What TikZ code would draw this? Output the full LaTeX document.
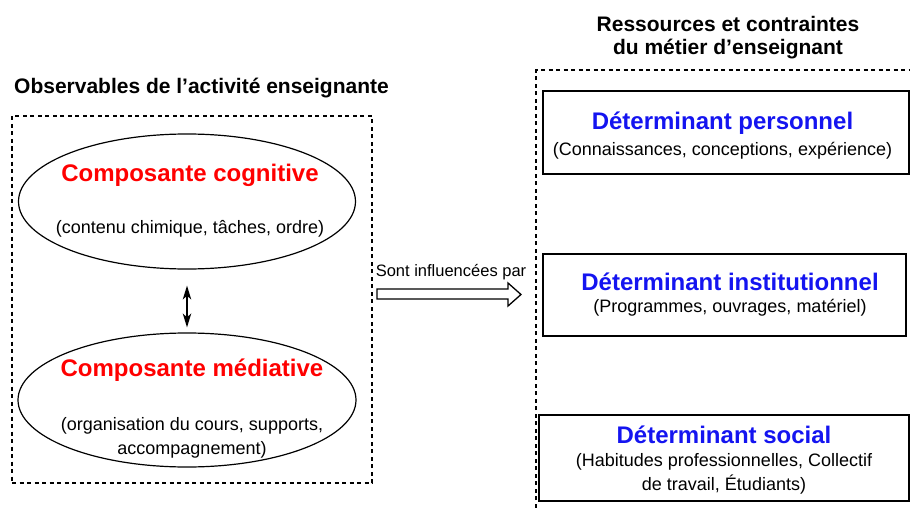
\documentclass[tikz,border=0pt]{standalone}
\usepackage{fontspec}
\setmainfont{Liberation Sans}
\usetikzlibrary{shapes.geometric,arrows.meta}
\definecolor{redt}{RGB}{255,0,0}
\definecolor{bluet}{RGB}{20,20,240}
\tikzset{
  frame/.style={draw, dash pattern=on 4pt off 3.5pt, line width=1.3pt},
  ell/.style={draw, ellipse, line width=1.2pt, inner sep=0pt},
  detbox/.style={draw, rectangle, line width=1.4pt, inner sep=0pt},
  ttl/.style={font=\fontsize{21}{23}\selectfont\bfseries, inner sep=0pt, align=center},
  big/.style={font=\fontsize{24}{27}\selectfont\bfseries, inner sep=0pt, align=center},
  small/.style={font=\fontsize{18}{24}\selectfont, inner sep=0pt, align=center},
  lbl/.style={font=\fontsize{16.5}{19}\selectfont, inner sep=0pt},
  hollow/.style={draw, line width=1.3pt, line join=miter, fill=white},
  dbl/.style={{Stealth[length=14pt,width=8.5pt,inset=4pt]}-{Stealth[length=14pt,width=8.5pt,inset=4pt]}, line width=1.3pt},
}
\begin{document}
\begin{tikzpicture}[x=1pt,y=-1pt]
\useasboundingbox (0,0) rectangle (910,511);
% left frame
\node[frame, minimum width=360pt, minimum height=367pt, inner sep=0pt] (lframe) at (192,299.5) {};
\node[ttl] (ltitle) at (201.5,88) {Observables de l’activité enseignante};
% ellipses
\node[ell, minimum width=337pt, minimum height=135pt] (e1) at (187,201.5) {};
\node[big, text=redt] (e1t) at (190,175) {Composante cognitive};
\node[small] (e1s) at (190,229) {(contenu chimique, tâches, ordre)};
\node[ell, minimum width=338pt, minimum height=134pt] (e2) at (187,400) {};
\node[big, text=redt] (e2t) at (192,370) {Composante médiative};
\node[small] (e2s) at (192,437.5) {(organisation du cours, supports,\\accompagnement)};
\draw[dbl] ([yshift=-16pt]e1.south) -- ([yshift=5pt]e2.north);
% arrow
\node[lbl] (inf) at (451,272) {Sont influencées par};
\coordinate (a0) at (377,289);
\coordinate (a1) at (508,289);
\coordinate (a2) at (508,283);
\coordinate (tip) at (521,294.5);
\coordinate (a4) at (508,306);
\coordinate (a5) at (508,299);
\coordinate (a6) at (377,299);
\draw[hollow] (a0) -- (a1) -- (a2) -- (tip) -- (a4) -- (a5) -- (a6) -- cycle;
% right frame
\node[ttl] (rtitle) at (728,37.5) {Ressources et contraintes\\du métier d’enseignant};
\coordinate (rf1) at (536,515);
\coordinate (rf2) at (536,70);
\coordinate (rf3) at (915,70);
\draw[frame] (rf1) -- (rf2) -- (rf3);
% boxes
\node[detbox, minimum width=366pt, minimum height=83pt] (b1) at (726,132.5) {};
\node[big, text=bluet] (b1t) at (722.5,123) {Déterminant personnel};
\node[small] (b1s) at (722.5,151) {(Connaissances, conceptions, expérience)};
\node[detbox, minimum width=363pt, minimum height=82pt] (b2) at (724.5,295) {};
\node[big, text=bluet] (b2t) at (730,282) {Déterminant institutionnel};
\node[small] (b2s) at (730,308) {(Programmes, ouvrages, matériel)};
\node[detbox, minimum width=370pt, minimum height=86pt] (b3) at (724,458) {};
\node[big, text=bluet] (b3t) at (724,435) {Déterminant social};
\node[small] (b3s) at (724,474) {(Habitudes professionnelles, Collectif\\de travail, Étudiants)};
\end{tikzpicture}
\end{document}
